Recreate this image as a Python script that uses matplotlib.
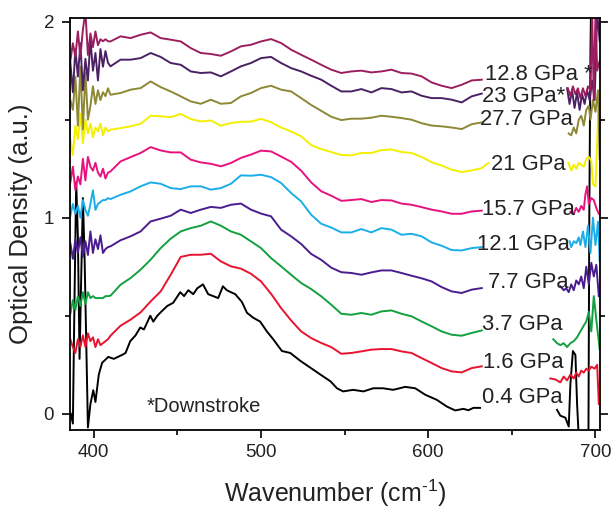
import matplotlib
matplotlib.use('Agg')
import matplotlib.pyplot as plt
from matplotlib.ticker import MultipleLocator

plt.rcParams['font.family'] = ['Liberation Sans', 'DejaVu Sans']
plt.rcParams['mathtext.fontset'] = 'custom'
plt.rcParams['mathtext.rm'] = 'Liberation Sans'
plt.rcParams['mathtext.it'] = 'Liberation Sans:italic'
plt.rcParams['mathtext.bf'] = 'Liberation Sans:bold'
plt.rcParams['mathtext.default'] = 'regular'

# ---------------- data ----------------
labels = ['0.4 GPa', '1.6 GPa', '3.7 GPa', '7.7 GPa', '12.1 GPa',
          '15.7 GPa', '21 GPa', '27.7 GPa', '23 GPa*', '12.8 GPa *']
colors = ['#000000', '#e8132f', '#13a03e', '#4a1d8e', '#1aaeea',
          '#e8127f', '#f4ef00', '#8d8835', '#4b2163', '#9b1f5f']

# shared wavenumber grids (cm^-1)
wn_left = [386, 387.5, 389, 390.5, 392, 393.5, 395, 396.5, 398, 399.5,
           401, 402.5, 404, 405.5, 407, 408.5]
wn_mid = [410, 416, 422, 428, 434, 440, 446, 452, 458, 464, 470, 476, 482,
          488, 494, 500, 506, 512, 518, 524, 530, 536, 542, 548, 554, 560,
          566, 572, 578, 584, 590, 596, 602, 608, 614, 620, 626, 632]

# 0.4 GPa (own, denser grid)
wn_04 = [386.3, 387.5, 388.5, 389.5, 390.5, 391.5, 392.5, 393.5, 394.5, 396.5,
         398, 399.7, 401, 403, 405, 408.7, 412, 416.9, 419, 421.8, 425, 427.8,
         430, 433.8, 435.6, 438, 441.5, 444, 447.5, 451.7, 454, 456.5, 459.5,
         461.9, 465.3, 468.4, 471.4, 474.4, 477.2, 479.6, 482, 484.6, 488.6,
         491.6, 495.3, 499.5, 503.5, 507.3, 512.5, 517.5, 523.5, 529.5, 535.5,
         541.6, 545.4, 549.1, 555.1, 561.3, 567.1, 573.0, 579.0, 586.2, 592.2,
         598.2, 605.1, 611.1, 616.1, 621.0, 624, 627.0, 631.0]
od_04 = [0.00, -0.05, 0.60, 1.18, 0.90, 0.28, 0.70, 1.10, 0.80, -0.07,
         0.05, 0.12, 0.06, 0.20, 0.26, 0.29, 0.28, 0.30, 0.31, 0.37, 0.40, 0.44,
         0.43, 0.50, 0.47, 0.50, 0.53, 0.55, 0.566, 0.62, 0.60, 0.63, 0.61,
         0.64, 0.66, 0.61, 0.60, 0.59, 0.65, 0.63, 0.62, 0.61, 0.57,
         0.515, 0.49, 0.47, 0.42, 0.38, 0.32, 0.31, 0.27, 0.235, 0.20,
         0.165, 0.13, 0.114, 0.122, 0.114, 0.13, 0.13, 0.122, 0.137, 0.13,
         0.097, 0.071, 0.037, 0.017, 0.025, 0.018, 0.03, 0.03]
wn_04_r = [677, 679, 682, 684, 685, 686.5, 688, 689, 690, 693, 695.8, 696.3, 697, 698]
od_04_r = [0.02, -0.01, -0.02, -0.065, 0.15, 0.32, 0.30, 0.05, -0.12, -0.12, -0.10, 1.0, 1.85, 2.5]

# left noisy parts (on wn_left)
left_16 = [0.38, 0.34, 0.31, 0.38, 0.34, 0.40, 0.34, 0.41, 0.37, 0.39, 0.34, 0.38, 0.35, 0.36, 0.37, 0.38]
left_37 = [0.51, 0.58, 0.53, 0.60, 0.55, 0.62, 0.56, 0.62, 0.59, 0.60, 0.59, 0.59, 0.59, 0.59, 0.60, 0.60]
left_77 = [0.87, 0.79, 0.89, 0.82, 0.90, 0.80, 0.88, 0.81, 0.93, 0.82, 0.89, 0.84, 0.91, 0.82, 0.84, 0.85]
left_121 = [1.01, 1.07, 1.02, 1.06, 1.00, 1.09, 1.04, 1.01, 1.07, 1.14, 1.04, 1.07, 1.08, 1.09, 1.09, 1.10]
left_157 = [1.18, 1.26, 1.14, 1.21, 1.17, 1.30, 1.19, 1.31, 1.26, 1.24, 1.28, 1.23, 1.21, 1.25, 1.20, 1.23]
left_21 = [1.40, 1.32, 1.47, 1.40, 1.53, 1.38, 1.50, 1.43, 1.48, 1.41, 1.46, 1.44, 1.48, 1.42, 1.46, 1.44]
left_277 = [1.60, 1.55, 1.72, 1.47, 1.77, 1.45, 1.74, 1.50, 1.57, 1.67, 1.58, 1.65, 1.60, 1.64, 1.62, 1.66]
left_23 = [1.79, 1.64, 1.86, 1.72, 1.89, 1.65, 1.81, 1.70, 1.91, 1.75, 1.84, 1.70, 1.86, 1.77, 1.85, 1.79]
left_128 = [1.80, 1.89, 1.82, 1.95, 1.82, 1.96, 2.05, 1.83, 1.94, 1.87, 1.95, 1.88, 1.91, 1.90, 1.91, 1.90]

# main smooth parts (on wn_mid)
mid_16 = [0.398, 0.449, 0.480, 0.517, 0.573, 0.624, 0.709, 0.800, 0.811, 0.811, 0.816, 0.777, 0.752,
          0.740, 0.714, 0.675, 0.612, 0.539, 0.476, 0.420, 0.386, 0.361, 0.340, 0.306, 0.310, 0.318,
          0.327, 0.330, 0.330, 0.318, 0.310, 0.284, 0.259, 0.233, 0.216, 0.211, 0.233, 0.242]
mid_37 = [0.602, 0.658, 0.692, 0.735, 0.786, 0.845, 0.893, 0.930, 0.947, 0.959, 0.981, 0.959, 0.930,
          0.913, 0.879, 0.845, 0.794, 0.752, 0.709, 0.667, 0.636, 0.599, 0.556, 0.510, 0.505, 0.514,
          0.505, 0.522, 0.527, 0.510, 0.497, 0.471, 0.446, 0.420, 0.403, 0.398, 0.412, 0.425]
mid_77 = [0.854, 0.885, 0.905, 0.930, 0.981, 0.995, 1.010, 1.041, 1.024, 1.041, 1.055, 1.050, 1.066,
          1.072, 1.041, 1.021, 1.007, 0.939, 0.905, 0.866, 0.815, 0.785, 0.745, 0.722, 0.718, 0.709,
          0.721, 0.731, 0.731, 0.718, 0.704, 0.691, 0.675, 0.646, 0.624, 0.616, 0.633, 0.641]
mid_121 = [1.095, 1.117, 1.134, 1.160, 1.180, 1.173, 1.151, 1.146, 1.160, 1.160, 1.143, 1.151, 1.173,
           1.216, 1.214, 1.219, 1.207, 1.177, 1.126, 1.083, 1.015, 0.969, 0.950, 0.925, 0.925, 0.942,
           0.925, 0.947, 0.939, 0.913, 0.918, 0.905, 0.874, 0.857, 0.835, 0.833, 0.845, 0.850]
mid_157 = [1.236, 1.287, 1.309, 1.330, 1.360, 1.343, 1.333, 1.333, 1.296, 1.282, 1.275, 1.262, 1.279,
           1.305, 1.322, 1.342, 1.338, 1.312, 1.285, 1.240, 1.180, 1.135, 1.112, 1.086, 1.090, 1.095,
           1.080, 1.090, 1.088, 1.072, 1.066, 1.054, 1.041, 1.032, 1.020, 1.020, 1.032, 1.036]
mid_21 = [1.449, 1.457, 1.466, 1.479, 1.520, 1.517, 1.513, 1.529, 1.503, 1.491, 1.496, 1.469, 1.483,
          1.489, 1.490, 1.504, 1.487, 1.460, 1.440, 1.415, 1.370, 1.350, 1.335, 1.320, 1.318, 1.330,
          1.330, 1.345, 1.348, 1.335, 1.330, 1.310, 1.283, 1.266, 1.245, 1.233, 1.241, 1.253]
mid_277 = [1.627, 1.636, 1.653, 1.661, 1.695, 1.666, 1.644, 1.619, 1.593, 1.581, 1.602, 1.581, 1.585,
           1.619, 1.636, 1.661, 1.673, 1.653, 1.644, 1.610, 1.575, 1.545, 1.515, 1.498, 1.505, 1.505,
           1.510, 1.520, 1.515, 1.508, 1.500, 1.482, 1.470, 1.466, 1.460, 1.452, 1.477, 1.486]
mid_23 = [1.772, 1.806, 1.806, 1.814, 1.840, 1.820, 1.789, 1.780, 1.746, 1.738, 1.741, 1.721, 1.746,
          1.772, 1.789, 1.814, 1.820, 1.789, 1.763, 1.746, 1.724, 1.704, 1.673, 1.644, 1.644, 1.656,
          1.639, 1.661, 1.656, 1.639, 1.644, 1.622, 1.610, 1.610, 1.602, 1.588, 1.619, 1.633]
mid_128 = [1.899, 1.925, 1.916, 1.933, 1.945, 1.916, 1.908, 1.899, 1.865, 1.840, 1.835, 1.826, 1.848,
           1.874, 1.882, 1.899, 1.911, 1.891, 1.857, 1.831, 1.806, 1.780, 1.755, 1.738, 1.746, 1.750,
           1.741, 1.746, 1.755, 1.738, 1.735, 1.721, 1.690, 1.673, 1.661, 1.678, 1.700, 1.704]
tail_21_wn = [636]
tail_21_od = [1.279]

# right noisy parts (own grids)
wn_16_r = [673, 676, 679, 681, 683, 685, 687, 688.5, 690, 691.5, 693, 694.5, 696, 697.5, 699.5, 701, 702]
od_16_r = [0.18, 0.175, 0.16, 0.19, 0.17, 0.20, 0.18, 0.21, 0.19, 0.22, 0.21, 0.23, 0.22, 0.24, 0.23, 0.25, 0.05]
wn_37_r = [674.8, 677, 679, 681, 683, 685, 687, 689, 691, 693, 694.5, 696, 697.5, 699, 700.5, 702.5]
od_37_r = [0.38, 0.36, 0.35, 0.36, 0.34, 0.36, 0.37, 0.39, 0.42, 0.45, 0.47, 0.52, 0.42, 0.60, 0.48, 0.33]
wn_77_r = [679, 681, 682.5, 684, 685.5, 687, 688.5, 690, 691.5, 693, 694.5, 696, 697.5, 699, 700.5, 702]
od_77_r = [0.65, 0.63, 0.64, 0.62, 0.66, 0.63, 0.68, 0.66, 0.70, 0.64, 0.75, 0.66, 0.77, 0.70, 0.76, 0.60]
wn_121_r = [684.5, 685.5, 687, 688.5, 690, 691, 692.5, 694, 695.5, 697, 698.5, 700, 701.5, 702.5]
od_121_r = [0.88, 0.85, 0.88, 0.87, 0.90, 0.86, 0.93, 0.85, 0.96, 0.82, 1.00, 0.86, 0.98, 0.78]
wn_157_r = [685, 687, 688.5, 690, 691.5, 693, 694, 695, 696, 697.5, 699, 700.5, 702]
od_157_r = [1.03, 1.02, 1.05, 1.03, 1.06, 1.04, 1.12, 1.16, 1.07, 1.10, 1.09, 1.05, 1.02]
wn_21_r = [683.8, 685.5, 687, 688.5, 690, 691.5, 693, 694.5, 696, 697.5, 698.5, 700, 701.5, 702.5]
od_21_r = [1.28, 1.24, 1.27, 1.25, 1.28, 1.27, 1.26, 1.30, 1.31, 1.29, 1.17, 1.16, 1.50, 1.60]
wn_277_r = [684, 685.5, 687, 688.5, 690, 691.5, 693, 694.5, 696, 697, 698.5, 700, 701.5, 702.5]
od_277_r = [1.43, 1.42, 1.46, 1.43, 1.50, 1.52, 1.47, 1.55, 1.57, 1.50, 1.60, 1.54, 1.65, 1.30]
wn_23_r = [683, 684.5, 686, 687.5, 689, 690.5, 692, 693.5, 695, 696.5, 698, 699.5, 701, 702.5]
od_23_r = [1.66, 1.58, 1.65, 1.56, 1.64, 1.55, 1.63, 1.58, 1.65, 1.60, 1.70, 1.60, 2.05, 1.90]
wn_128_r = [683.5, 685, 686.5, 688, 689.5, 691, 692.5, 694, 695.5, 697, 698, 699, 700, 701, 702.5]
od_128_r = [1.66, 1.62, 1.67, 1.63, 1.66, 1.61, 1.66, 1.62, 1.67, 1.65, 2.05, 1.60, 2.05, 1.75, 1.80]

# label anchor positions (wavenumber, OD)
label_pos = [(632, 0.082), (633, 0.26), (632, 0.454), (636, 0.668), (629, 0.862),
             (632, 1.04), (637.4, 1.27), (631, 1.50), (632, 1.62), (634, 1.73)]

# ---------------- figure ----------------
fig = plt.figure(figsize=(6.12, 5.15), dpi=100)
ax = fig.add_axes([0.1136, 0.165, 0.8676, 0.8006])
txt = '#222222'
lw = 1.4

series_main = [
    (None, None), (left_16, mid_16), (left_37, mid_37), (left_77, mid_77),
    (left_121, mid_121), (left_157, mid_157), (left_21, mid_21),
    (left_277, mid_277), (left_23, mid_23), (left_128, mid_128)]
series_right = [(wn_04_r, od_04_r), (wn_16_r, od_16_r), (wn_37_r, od_37_r),
                (wn_77_r, od_77_r), (wn_121_r, od_121_r), (wn_157_r, od_157_r),
                (wn_21_r, od_21_r), (wn_277_r, od_277_r), (wn_23_r, od_23_r),
                (wn_128_r, od_128_r)]

for i, (lab, col) in enumerate(zip(labels, colors)):
    if i == 0:
        xs, ys = wn_04, od_04
    else:
        l, m = series_main[i]
        xs = wn_left + wn_mid
        ys = l + m
        if i == 6:
            xs = xs + tail_21_wn
            ys = ys + tail_21_od
    ax.plot(xs, ys, color=col, lw=lw, solid_joinstyle='round')
    rx, ry = series_right[i]
    ax.plot(rx, ry, color=col, lw=lw, solid_joinstyle='round')
    px, py = label_pos[i]
    ax.text(px, py, lab, fontsize=15.8, color=txt, ha='left', va='center')

ax.text(431.4, 0.036, '*Downstroke', fontsize=14.5, color=txt, ha='left', va='center')

ax.set_xlim(385.5, 703)
ax.set_ylim(-0.083, 2.02)
ax.xaxis.set_major_locator(MultipleLocator(100))
ax.xaxis.set_minor_locator(MultipleLocator(50))
ax.yaxis.set_major_locator(MultipleLocator(1))
ax.yaxis.set_minor_locator(MultipleLocator(0.5))
ax.tick_params(which='major', direction='out', length=6, width=1.2, color='black',
               labelsize=13.5, labelcolor=txt)
ax.tick_params(which='minor', direction='out', length=3.8, width=1.2, color='black')
ax.tick_params(axis='x', which='major', pad=4)
ax.tick_params(axis='y', which='major', pad=5)
ax.tick_params(axis='y', which='both', right=True, labelright=False)
for s in ax.spines.values():
    s.set_linewidth(1.3)

ax.set_xlabel('Wavenumber (cm$^{\u20101}$)', fontsize=18, color=txt, labelpad=12)
ax.set_ylabel('Optical Density (a.u.)', fontsize=18.5, color=txt, labelpad=8)

fig.savefig('out.png', dpi=100)
